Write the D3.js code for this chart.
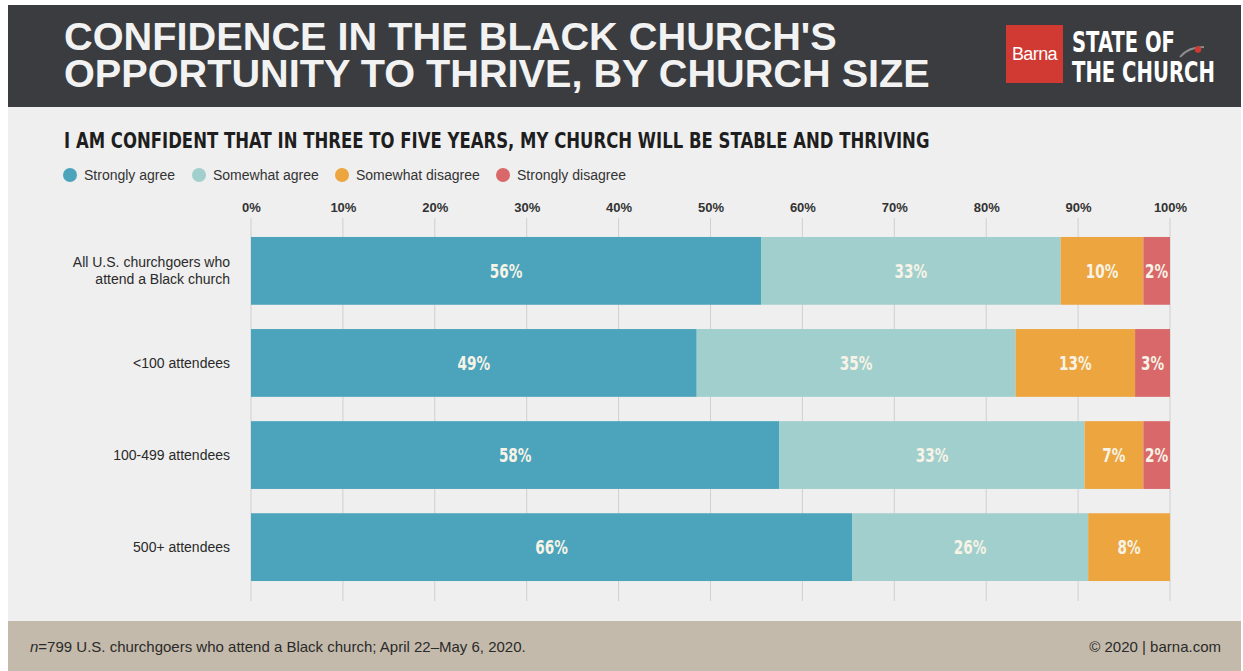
<!DOCTYPE html>
<html>
<head>
<meta charset="utf-8">
<script src="https://cdn.jsdelivr.net/npm/d3@7"></script>
<style>
  body { margin: 0; background: #fff; }
  svg { display: block; font-family: "Liberation Sans", Arial, sans-serif; }
</style>
</head>
<body>
<div id="container"></div>
<script>
// data (bar lengths as drawn, labels as printed)
const categories = ["All U.S. churchgoers who|attend a Black church", "<100 attendees", "100-499 attendees", "500+ attendees"];
const seriesNames = ["Strongly agree", "Somewhat agree", "Somewhat disagree", "Strongly disagree"];
const stronglyAgree = [55.5, 48.5, 57.5, 65.4];
const somewhatAgree = [32.6, 34.7, 33.2, 25.7];
const somewhatDisagree = [9.0, 13.0, 6.4, 8.9];
const stronglyDisagree = [2.9, 3.8, 2.9, 0];
const labelsAgree = ["56%", "49%", "58%", "66%"];
const labelsSomewhatAgree = ["33%", "35%", "33%", "26%"];
const labelsSomewhatDisagree = ["10%", "13%", "7%", "8%"];
const labelsDisagree = ["2%", "3%", "2%", ""];
const tickValues = [0, 10, 20, 30, 40, 50, 60, 70, 80, 90, 100];

const colors = ["#4ba4bc", "#a1cfcd", "#eca53f", "#d9686a"];

const W = 1243, H = 671;
const svg = d3.select("#container").append("svg")
    .attr("width", W).attr("height", H);

// squeeze or stretch a text to a given width (the reference uses condensed faces)
function fitText(sel, x, y, width) {
    const len = sel.node().getComputedTextLength();
    sel.attr("x", 0).attr("y", 0)
        .attr("transform", `translate(${x},${y}) scale(${width / len},1)`);
}

// panels
svg.append("rect").attr("x", 8).attr("y", 5).attr("width", 1233).attr("height", 666).attr("fill", "#efefef");
svg.append("rect").attr("x", 8).attr("y", 5).attr("width", 1233).attr("height", 102).attr("fill", "#3a3c3f");
svg.append("rect").attr("x", 8).attr("y", 621).attr("width", 1233).attr("height", 50).attr("fill", "#c4baab");

// title
const t1 = svg.append("text").attr("fill", "#f2f2f2")
    .style("font-weight", "bold").style("font-size", "38px").text("CONFIDENCE IN THE BLACK CHURCH'S");
fitText(t1, 64, 50, 773);
const t2 = svg.append("text").attr("fill", "#f2f2f2")
    .style("font-weight", "bold").style("font-size", "38px").text("OPPORTUNITY TO THRIVE, BY CHURCH SIZE");
fitText(t2, 64, 87, 866);

// logo
svg.append("rect").attr("x", 1006).attr("y", 25).attr("width", 57).attr("height", 58).attr("fill", "#d03a32");
svg.append("text").attr("x", 1034.5).attr("y", 60).attr("text-anchor", "middle")
    .attr("fill", "#fff").style("font-size", "18px").style("letter-spacing", "-0.6px").text("Barna");
const l1 = svg.append("text").attr("fill", "#fff")
    .style("font-family", "'DejaVu Sans'").style("font-weight", "bold").style("font-size", "29px").text("STATE OF");
fitText(l1, 1072, 52, 103);
const l2 = svg.append("text").attr("fill", "#fff")
    .style("font-family", "'DejaVu Sans'").style("font-weight", "bold").style("font-size", "29px").text("THE CHURCH");
fitText(l2, 1072, 82, 143);
svg.append("path").attr("d", "M1180,57 Q1188,47 1204,47").attr("fill", "none")
    .attr("stroke", "#8e8e8e").attr("stroke-width", 2);
svg.append("circle").attr("cx", 1198).attr("cy", 49.5).attr("r", 3.2).attr("fill", "#d03a32");

// subtitle
const sub = svg.append("text").attr("fill", "#1e1e1e")
    .style("font-family", "'DejaVu Sans'").style("font-weight", "bold").style("font-size", "22px")
    .text("I AM CONFIDENT THAT IN THREE TO FIVE YEARS, MY CHURCH WILL BE STABLE AND THRIVING");
fitText(sub, 64, 148, 866);

// legend
const legendX = [70, 199, 342, 503];
const legend = svg.selectAll(".legend").data(seriesNames).enter().append("g")
    .attr("transform", (d, i) => `translate(${legendX[i]},175)`);
legend.append("circle").attr("r", 7).attr("fill", (d, i) => colors[i]);
legend.append("text").attr("x", 14).attr("y", 5).attr("fill", "#333")
    .style("font-size", "14px").text(d => d);

// scales
const x = d3.scaleLinear().domain([0, 100]).range([251, 1170]);
const y = d3.scaleBand().domain(categories).range([225, 593]).paddingInner(0.264).paddingOuter(0.13);

// grid + axis
const axis = svg.append("g").attr("transform", "translate(0,212)")
    .call(d3.axisTop(x).tickValues(tickValues).tickFormat(d => d + "%").tickSize(0).tickPadding(0));
axis.select(".domain").remove();
axis.selectAll("text").attr("fill", "#333").style("font-size", "13px").style("font-weight", "bold")
    .style("font-family", "'Liberation Sans', Arial, sans-serif");
svg.append("g").selectAll("line").data(tickValues).enter().append("line")
    .attr("x1", d => x(d)).attr("x2", d => x(d)).attr("y1", 218).attr("y2", 601)
    .attr("stroke", "#cfcfcf").attr("stroke-width", 1);

// stacked data
const valueSets = [stronglyAgree, somewhatAgree, somewhatDisagree, stronglyDisagree];
const labelSets = [labelsAgree, labelsSomewhatAgree, labelsSomewhatDisagree, labelsDisagree];
const rows = categories.map((c, i) => {
    const vals = valueSets.map(s => s[i]);
    const total = d3.sum(vals);
    let acc = 0;
    return vals.map((v, k) => {
        const seg = { cat: c, k: k, v: v, label: labelSets[k][i], x0: acc / total * 100, x1: (acc + v) / total * 100 };
        acc += v;
        return seg;
    }).filter(s => s.v > 0);
});

const bars = svg.append("g");
bars.selectAll("rect").data(rows.flat()).enter().append("rect")
    .attr("x", d => x(d.x0)).attr("y", d => y(d.cat))
    .attr("width", d => x(d.x1) - x(d.x0)).attr("height", y.bandwidth())
    .attr("fill", d => colors[d.k]);

bars.selectAll("text").data(rows.flat()).enter().append("text")
    .attr("transform", d => `translate(${(x(d.x0) + x(d.x1)) / 2},${y(d.cat) + y.bandwidth() / 2 + 7}) scale(0.7,1)`)
    .attr("text-anchor", "middle").attr("fill", "#f7f3e6")
    .style("font-family", "'DejaVu Sans'").style("font-weight", "bold").style("font-size", "19.5px")
    .text(d => d.label);

// category labels
categories.forEach(c => {
    const lines = c.split("|");
    const cy = y(c) + y.bandwidth() / 2;
    const t = svg.append("text").attr("text-anchor", "end").attr("fill", "#2a2a2a").style("font-size", "14px");
    lines.forEach((l, j) => {
        t.append("tspan").attr("x", 230)
            .attr("y", cy + 5 + (j - (lines.length - 1) / 2) * 17).text(l);
    });
});

// footer
const foot = svg.append("text").attr("x", 30).attr("y", 652).attr("fill", "#2a2a2a").style("font-size", "15px");
foot.append("tspan").style("font-style", "italic").text("n");
foot.append("tspan").text("=799 U.S. churchgoers who attend a Black church; April 22\u2013May 6, 2020.");
svg.append("text").attr("x", 1221).attr("y", 652).attr("text-anchor", "end").attr("fill", "#2a2a2a")
    .style("font-size", "15px").text("\u00a9 2020 | barna.com");
</script>
</body>
</html>
